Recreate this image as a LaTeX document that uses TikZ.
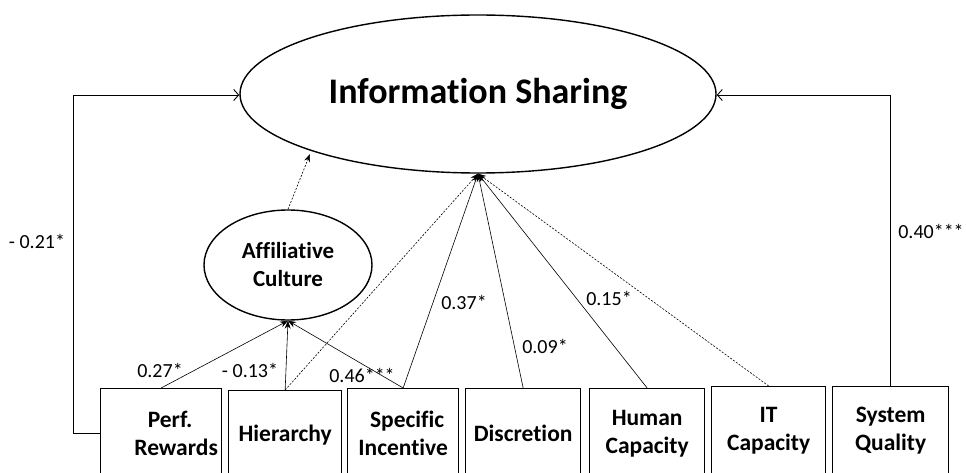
\documentclass[tikz,border=0pt]{standalone}
\usepackage{fontspec}
\setmainfont{Carlito}[Ligatures=NoCommon]
\usetikzlibrary{shapes.geometric,arrows.meta}
\begin{document}
\begin{tikzpicture}[x=1pt,y=-1pt,
  latent/.style={draw,ellipse,line width=1.4pt,inner sep=0pt,font=\bfseries},
  measure/.style={draw,rectangle,line width=1.3pt,anchor=north west,inner sep=0pt,
    align=center,font=\fontsize{23.5}{28}\selectfont\bfseries},
  path/.style={line width=0.6pt,-{Stealth[length=8pt,width=6pt]}},
  weak/.style={path,dash pattern=on 2pt off 1.5pt},
  direct/.style={line width=0.9pt,-{Straight Barb[length=5pt,width=11pt]}},
  coef/.style={font=\fontsize{20}{24}\selectfont,inner sep=0pt}]
\useasboundingbox[fill=white] (0,0) rectangle (966,473);
\begin{scope}
\clip (0,0) rectangle (966,473);

% latent constructs
\node[latent,minimum width=476pt,minimum height=158pt,
      font=\fontsize{36}{40}\selectfont\bfseries] (IS) at (478,94) {Information Sharing};
\node[latent,minimum width=168pt,minimum height=110pt,align=center,
      font=\fontsize{23}{28}\selectfont\bfseries] (AC) at (288,265) {Affiliative\\Culture};

% observed predictors
\node[measure,minimum width=121pt,minimum height=90pt] (PR) at (100,388) {\hspace*{18pt}Perf.\\\hspace*{30pt}Rewards};
\node[measure,minimum width=113pt,minimum height=88pt] (HI) at (228,390) {Hierarchy};
\node[measure,minimum width=111pt,minimum height=90pt] (SI) at (347,388) {\hspace*{8pt}Specific\\Incentive};
\node[measure,minimum width=115pt,minimum height=90pt] (DI) at (465,388) {Discretion};
\node[measure,minimum width=115pt,minimum height=90pt] (HC) at (589,388) {Human\\Capacity};
\node[measure,minimum width=114pt,minimum height=88pt] (IT) at (711,386) {IT\\Capacity};
\node[measure,minimum width=116pt,minimum height=88pt] (SQ) at (832,386) {System\\Quality};

% paths into the affiliative culture
\draw[path] (PR.north) -- (AC.south);
\draw[path] (HI.north) -- (AC.south);
\draw[path] (SI.north) -- (AC.south);

% paths into information sharing
\draw[weak] (AC.north) -- (310,154);
\draw[weak] (HI.north) -- (IS.south);
\draw[path] (SI.north) -- (IS.south);
\draw[path] (DI.north) -- (IS.south);
\draw[path] (HC.north) -- (IS.south);
\draw[weak] (IT.north) -- (IS.south);

% direct effects routed around the diagram
\coordinate (lb) at (73,433);
\coordinate (lt) at (73,95);
\coordinate (rt) at (890,95);
\draw[direct] (PR.west |- lb) -- (lb) -- (lt) -- (IS.west |- lt);
\draw[direct] (SQ.north) -- (SQ.north |- rt) -- (IS.east |- rt);

% coefficients
\node[coef] (c1) at (37,241) {- 0.21*};
\node[coef] (c2) at (931,231) {0.40***};
\node[coef] (c3) at (160,370) {0.27*};
\node[coef] (c4) at (250,370) {- 0.13*};
\node[coef] (c5) at (362,375) {0.46***};
\node[coef] (c6) at (464,302) {0.37*};
\node[coef] (c7) at (545,346) {0.09*};
\node[coef] (c8) at (609,298) {0.15*};
\end{scope}
\end{tikzpicture}
\end{document}
